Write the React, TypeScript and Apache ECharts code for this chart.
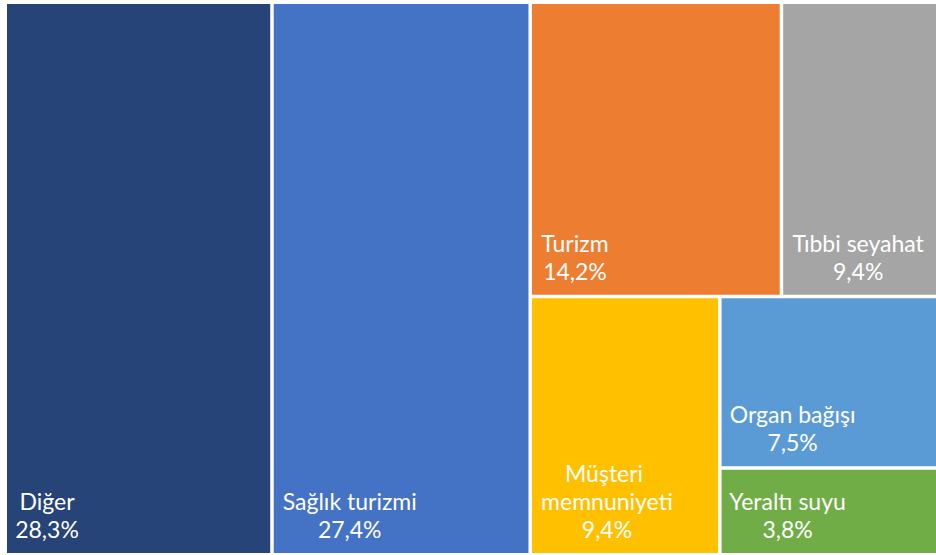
import React, { useEffect, useRef } from 'react';
import * as echarts from 'echarts';

const categories = ['Diğer', 'Sağlık turizmi', 'Turizm', 'Tıbbi seyahat', 'Müşteri memnuniyeti', 'Organ bağışı', 'Yeraltı suyu'];
const shares = [28.3, 27.4, 14.2, 9.4, 9.4, 7.5, 3.8];
const colors = ['#264478', '#4472C4', '#ED7D31', '#A5A5A5', '#FFC000', '#5B9BD5', '#70AD47'];
// horizontal centre of each label block, measured from the cell's left edge
const labelCenters = [40, 76, 43, 75, 75, 71, 66];

const fmt = (v: number) => v.toFixed(1).replace('.', ',') + '%';

export default function App() {
  const ref = useRef<HTMLDivElement>(null);
  useEffect(() => {
    if (!ref.current) return;
    const chart = echarts.init(ref.current, null, { renderer: 'svg' });
    const data = categories.map((name, i) => ({
      name,
      value: shares[i],
      itemStyle: { color: colors[i] },
      label: { position: [labelCenters[i], '100%'] as any },
    }));
    chart.setOption({
      animation: false,
      backgroundColor: '#ffffff',
      series: [
        {
          type: 'treemap',
          left: 7,
          top: 4,
          width: 939,
          height: 549,
          roam: false,
          nodeClick: false,
          squareRatio: 0.92,
          sort: false,
          breadcrumb: { show: false },
          itemStyle: { borderWidth: 0, gapWidth: 3.5, borderColor: '#fff' },
          levels: [{ itemStyle: { borderWidth: 0, gapWidth: 3.5 } }],
          label: {
            show: true,
            formatter: (p: any) => p.name + '\n' + fmt(p.value),
            color: '#ffffff',
            fontFamily: 'Lato',
            fontSize: 23,
            lineHeight: 28,
            align: 'center',
            verticalAlign: 'bottom',
            offset: [0, -5],
            overflow: 'break',
          },
          data,
        },
      ],
    });
    return () => chart.dispose();
  }, []);
  return (
    <div style={{ position: 'absolute', left: 0, top: 0, width: 936, height: 555, overflow: 'hidden' }}>
      <div ref={ref} style={{ position: 'absolute', left: 0, top: 0, width: 950, height: 555 }} />
    </div>
  );
}
